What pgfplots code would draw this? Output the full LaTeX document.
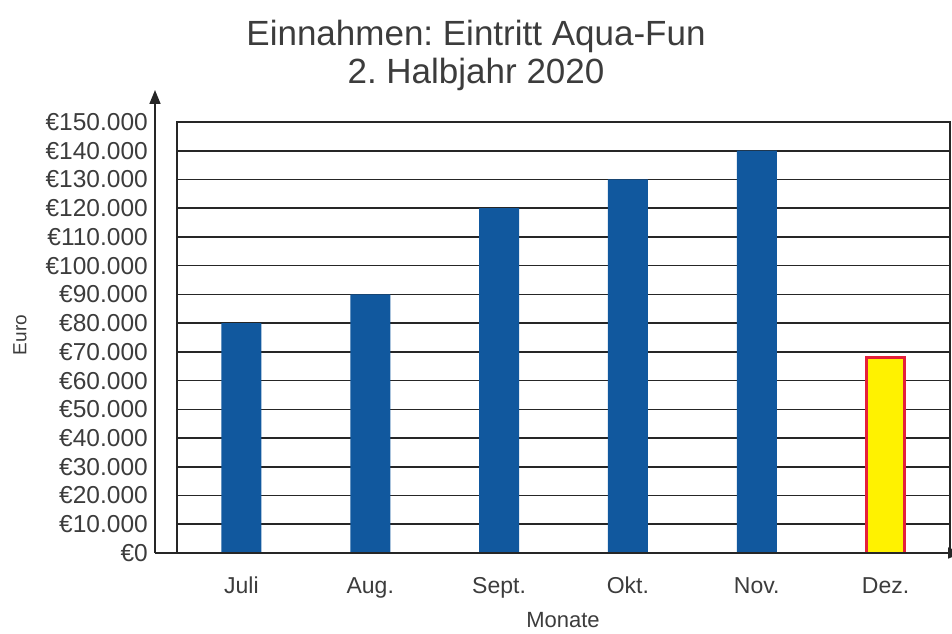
\documentclass[border=0pt]{standalone}
\usepackage{fontspec}
\setmainfont{Liberation Sans}
\usepackage{pgfplots}
\pgfplotsset{compat=1.18}
\usepackage{pgfplotstable}
\usetikzlibrary{arrows.meta}
\frenchspacing

\definecolor{barblue}{HTML}{11589E}
\definecolor{baryellow}{HTML}{FFF200}
\definecolor{barred}{HTML}{E5203A}
\definecolor{txt}{HTML}{3C3C3C}

% month index, income in euro
\pgfplotstableread{
idx wert
0 80000
1 90000
2 120000
3 130000
4 140000
}\blaubalken
\pgfplotstableread{
idx wert
5 68000
}\dezbalken

\begin{document}
\begin{tikzpicture}
\begin{axis}[
    at={(0,0)}, anchor=south west,
    width=773pt, height=431pt, scale only axis,
    xmin=-0.5, xmax=5.5,
    ymin=0, ymax=150000,
    xtick={0,1,2,3,4,5},
    xticklabels={Juli,Aug.,Sept.,Okt.,Nov.,Dez.},
    ytick={0,10000,...,150000},
    yticklabels={€0,€10.000,€20.000,€30.000,€40.000,€50.000,€60.000,€70.000,
      €80.000,€90.000,€100.000,€110.000,€120.000,€130.000,€140.000,€150.000},
    scaled y ticks=false,
    major tick length=0pt,
    ymajorgrids,
    grid style={black!85, line width=1.6pt},
    axis line style={black!85, line width=1.6pt},
    yticklabel style={font=\fontsize{24.5}{27}\selectfont, text=txt,
      inner sep=0pt, xshift=-29pt},
    xticklabel style={font=\fontsize{23}{26}\selectfont, text=txt,
      inner sep=0pt, anchor=base, yshift=-40pt},
    clip=false,
]
\addplot[ybar, bar width=40pt, bar shift=0pt, fill=barblue, draw=none]
  table[x=idx, y=wert] {\blaubalken};
\addplot[ybar, bar width=38pt, bar shift=0pt, fill=baryellow, draw=barred,
  line width=2.5pt]
  table[x=idx, y=wert] {\dezbalken};
\end{axis}
% separate axis arrows
\draw[black!85, line width=1.6pt, -{Triangle[length=14pt, width=11pt]}]
  (-22pt,0) -- (-22pt,463pt);
\draw[black!85, line width=1.6pt, -{Triangle[length=14pt, width=11pt]}]
  (-22pt,0) -- (785pt,0);
% axis titles
\node[anchor=base, font=\fontsize{22}{25}\selectfont, text=txt]
  at (386pt,-74pt) {Monate};
\node[rotate=90, font=\fontsize{19}{22}\selectfont, text=txt]
  at (-157pt,218pt) {Euro};
% title
\node[anchor=base, font=\fontsize{35}{40}\selectfont, text=txt]
  at (299pt,507pt) {Einnahmen: Eintritt Aqua-Fun};
\node[anchor=base, font=\fontsize{35}{40}\selectfont, text=txt]
  at (299pt,469pt) {2. Halbjahr 2020};
\pgfresetboundingbox
\path[use as bounding box] (-177pt,-80pt) rectangle (775pt,553pt);
\end{tikzpicture}
\end{document}
